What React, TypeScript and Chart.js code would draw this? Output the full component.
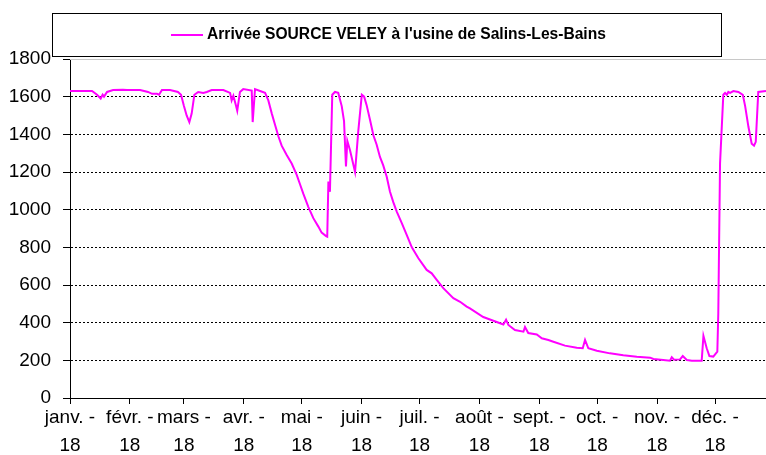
import React, { useEffect, useRef } from "react";
import { Chart, registerables } from "chart.js";

Chart.register(...registerables);

const seriesName = "Arrivée SOURCE VELEY à l'usine de Salins-Les-Bains";

const monthStartDays = [0, 31, 59, 90, 120, 151, 181, 212, 243, 273, 304, 334];
const monthLabels = ["janv. -", "févr. -", "mars -", "avr. -", "mai -", "juin -", "juil. -", "août -", "sept. -", "oct. -", "nov. -", "déc. -"];
const yearLabel = "18";

const yTicks = [0, 200, 400, 600, 800, 1000, 1200, 1400, 1600, 1800];

// day of year (0 = 1 Jan 2018)
const days = [
  0, 11.4, 14, 15.9, 16.9, 17.6, 19.2, 22.3, 27.4, 29.5, 32.6, 36.3, 40.4, 42.5, 45.1, 46.1, 47.6, 51.8, 55.9, 57.5,
  59, 60.4, 61.8, 63, 64.4, 66.4, 69, 70.8, 73.4, 79.4, 82.9, 83.7, 84.6, 86, 86.6, 88, 89.7, 94.1, 94.6, 95.8,
  98.4, 101, 102.7, 104.5, 106.2, 107.9, 109.6, 112.2, 114.8, 117.4, 119.1, 120.8, 123.4, 126, 128.6, 130.3, 132.6, 133.2, 133.8, 134.6,
  135.8, 137.2, 138.9, 140.7, 141.9, 142.9, 143.6, 145, 147.6, 149.3, 151.1, 152.3, 153.6, 155.4, 157.1, 158.8, 160.5, 162.2, 164, 165.7,
  167.4, 169.2, 171.8, 174.4, 177, 180.4, 184.7, 187.3, 189.9, 193.3, 198.5, 202, 205.4, 207.1, 214, 222.7, 224.4, 225.8, 227, 230.4,
  234.8, 235.6, 237.3, 241.7, 244.3, 247.7, 250.3, 256.3, 262.4, 265.5, 266.7, 268.4, 272.8, 279.6, 286.5, 293.5, 300.4, 302.1, 307.2, 310.7,
  311.6, 312.8, 315.9, 317.3, 319.4, 322, 327.1, 328, 329.7, 331.1, 333.1, 335.2, 335.7, 336.6, 338.3, 339.2, 340.1, 340.9, 341.8, 343.5,
  346.1, 348.4, 349.6, 351.3, 353, 354.2, 355.1, 356.4, 360.4,
];

// flow values (m3/h)
const flow = [
  1630, 1630, 1610, 1590, 1610, 1600, 1625, 1635, 1637, 1635, 1635, 1635, 1625, 1615, 1615, 1610, 1635, 1635, 1625, 1610,
  1550, 1500, 1465, 1510, 1610, 1625, 1620, 1625, 1635, 1635, 1620, 1580, 1605, 1550, 1525, 1625, 1640, 1632, 1465, 1640,
  1630, 1620, 1580, 1510, 1450, 1390, 1340, 1290, 1245, 1185, 1135, 1085, 1015, 955, 910, 878, 860, 857, 1150, 1095,
  1610, 1625, 1620, 1550, 1470, 1230, 1365, 1315, 1200, 1420, 1610, 1600, 1555, 1475, 1395, 1345, 1280, 1235, 1175, 1095,
  1040, 990, 928, 865, 800, 742, 680, 662, 627, 583, 530, 511, 485, 476, 430, 397, 390, 416, 388, 361,
  352, 377, 345, 337, 317, 308, 299, 278, 267, 264, 308, 264, 251, 237, 227, 219, 214, 207, 202, 198,
  216, 203, 205, 223, 202, 198, 198, 330, 264, 223, 220, 246, 450, 1245, 1610, 1620, 1610, 1625, 1620, 1630,
  1625, 1610, 1550, 1440, 1350, 1340, 1360, 1625, 1630,
];

const LINE_COLOR = "#FF00FF";
const FONT = "'Liberation Sans', Arial, sans-serif";

const legendBoxPlugin = {
  id: "legendBox",
  afterDraw(chart: any) {
    const ctx = chart.ctx as CanvasRenderingContext2D;
    const area = chart.chartArea;
    ctx.save();
    // plot area top border
    ctx.strokeStyle = "#c8c8c8";
    ctx.lineWidth = 1;
    ctx.beginPath();
    ctx.moveTo(area.left, Math.round(area.top) + 0.5);
    ctx.lineTo(area.right, Math.round(area.top) + 0.5);
    ctx.stroke();
    // legend box
    ctx.fillStyle = "#ffffff";
    ctx.fillRect(53, 14, 668, 42);
    ctx.strokeStyle = "#000000";
    ctx.lineWidth = 1;
    ctx.strokeRect(52.5, 13.5, 669, 43);
    ctx.strokeStyle = LINE_COLOR;
    ctx.lineWidth = 2;
    ctx.beginPath();
    ctx.moveTo(171, 35);
    ctx.lineTo(203, 35);
    ctx.stroke();
    ctx.fillStyle = "#000000";
    ctx.font = `bold 15.6px ${FONT}`;
    ctx.textBaseline = "middle";
    ctx.textAlign = "left";
    ctx.fillText(seriesName, 207, 35);
    ctx.restore();
  },
};

export default function App() {
  const canvasRef = useRef<HTMLCanvasElement | null>(null);

  useEffect(() => {
    if (!canvasRef.current) return;
    const points = days.map((d, i) => ({ x: d, y: flow[i] }));
    const chart = new Chart(canvasRef.current, {
      type: "line",
      data: {
        datasets: [
          {
            label: seriesName,
            data: points,
            borderColor: LINE_COLOR,
            backgroundColor: LINE_COLOR,
            borderWidth: 2,
            pointRadius: 0,
            tension: 0,
            fill: false,
          },
        ],
      },
      options: {
        responsive: false,
        animation: false,
        layout: { padding: { top: 59, left: 0, right: 0, bottom: 0 } },
        plugins: {
          legend: { display: false },
          tooltip: { enabled: false },
          title: { display: false },
        },
        scales: {
          x: {
            type: "linear",
            min: 0,
            max: 360.4,
            afterBuildTicks: (scale: any) => {
              scale.ticks = monthStartDays.map((v) => ({ value: v }));
            },
            afterFit: (scale: any) => {
              scale.height = 57;
            },
            ticks: {
              autoSkip: false,
              maxRotation: 0,
              minRotation: 0,
              padding: 0,
              color: "#000",
              font: { family: FONT, size: 19, lineHeight: 28 / 19 },
              callback: (_v: any, i: number) => [monthLabels[i], yearLabel],
            },
            grid: {
              drawOnChartArea: false,
              drawTicks: true,
              tickLength: 6,
              tickColor: "#000",
            },
            border: { display: true, color: "#000", width: 1 },
          },
          y: {
            type: "linear",
            min: 0,
            max: 1800,
            afterBuildTicks: (scale: any) => {
              scale.ticks = yTicks.map((v) => ({ value: v }));
            },
            afterFit: (scale: any) => {
              scale.width = 70;
            },
            ticks: {
              padding: 12,
              color: "#000",
              font: { family: FONT, size: 19 },
              callback: (v: any) => String(v),
            },
            grid: {
              color: (c: any) => (c.tick && c.tick.value === 1800 ? "rgba(0,0,0,0)" : "#000"),
              lineWidth: 1,
              drawTicks: true,
              tickLength: 7,
              tickColor: "#000",
            },
            border: { display: true, color: "#000", width: 1, dash: [2, 2] },
          },
        },
      },
      plugins: [legendBoxPlugin],
    });
    return () => chart.destroy();
  }, []);

  return (
    <div style={{ position: "fixed", left: 0, top: 0, width: 766, height: 455, background: "#fff" }}>
      <canvas ref={canvasRef} width={766} height={455} style={{ display: "block" }} />
    </div>
  );
}
